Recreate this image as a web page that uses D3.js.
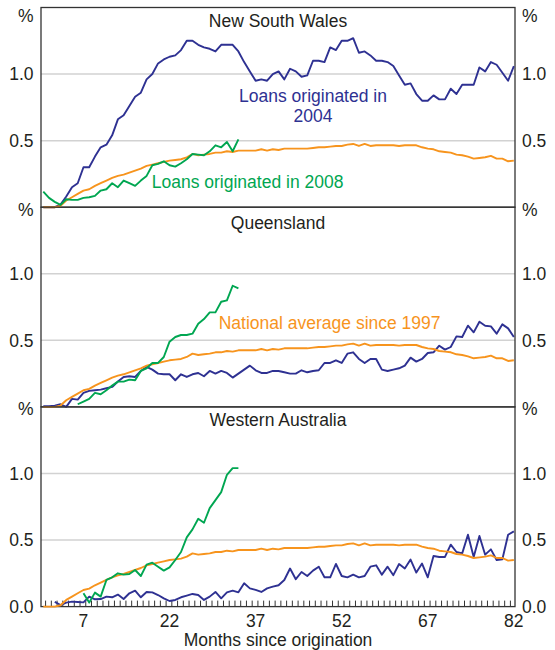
<!DOCTYPE html>
<html>
<head>
<meta charset="utf-8">
<script src="https://cdn.jsdelivr.net/npm/d3@7"></script>
<style>
  body { margin: 0; background: #fff; }
  svg text { font-family: "Liberation Sans", Arial, sans-serif; font-size: 17.5px; fill: #231f20; }
</style>
</head>
<body>
<svg id="chart" width="555" height="650"></svg>
<script>
// Arrears rate (%) by months since origination, k = 0..82

const national = [0, 0, 0, 0.01, 0.05, 0.075, 0.10, 0.125, 0.135, 0.16,
  0.18, 0.20, 0.22, 0.235, 0.245, 0.26, 0.275, 0.29, 0.31, 0.32,
  0.33, 0.34, 0.35, 0.355, 0.36, 0.375, 0.40, 0.39, 0.395, 0.40,
  0.41, 0.41, 0.42, 0.415, 0.425, 0.425, 0.425, 0.425, 0.435, 0.425,
  0.435, 0.43, 0.44, 0.44, 0.44, 0.44, 0.44, 0.445, 0.45, 0.45,
  0.455, 0.46, 0.46, 0.47, 0.475, 0.46, 0.475, 0.46, 0.465, 0.465,
  0.465, 0.465, 0.46, 0.465, 0.465, 0.465, 0.45, 0.44, 0.435, 0.42,
  0.415, 0.41, 0.395, 0.39, 0.38, 0.365, 0.37, 0.375, 0.385, 0.365,
  0.365, 0.345, 0.35];

const nsw2004 = [0, 0, 0, 0.02, 0.08, 0.15, 0.18, 0.30, 0.30, 0.38,
  0.45, 0.47, 0.54, 0.66, 0.69, 0.76, 0.83, 0.86, 0.96, 1.00,
  1.08, 1.11, 1.13, 1.14, 1.18, 1.25, 1.25, 1.22, 1.20, 1.19,
  1.17, 1.22, 1.22, 1.22, 1.17, 1.09, 1.02, 0.95, 0.96, 0.95,
  1.00, 1.02, 0.96, 1.04, 1.02, 0.98, 0.99, 1.10, 1.10, 1.09,
  1.20, 1.18, 1.25, 1.25, 1.27, 1.16, 1.17, 1.14, 1.10, 1.10,
  1.09, 1.06, 0.99, 0.92, 0.93, 0.85, 0.80, 0.80, 0.84, 0.81,
  0.81, 0.89, 0.85, 0.92, 0.92, 0.92, 1.05, 1.02, 1.09, 1.07,
  1.01, 0.95, 1.06];
const nsw2008Start = 0;
const nsw2008 = [0.117, 0.07, 0.04, 0.017, 0.06, 0.055, 0.055, 0.07, 0.075, 0.085,
  0.125, 0.135, 0.18, 0.15, 0.20, 0.18, 0.16, 0.20, 0.235, 0.315,
  0.325, 0.345, 0.315, 0.305, 0.33, 0.36, 0.40, 0.395, 0.39, 0.42,
  0.465, 0.45, 0.49, 0.42, 0.51];

const qld2004 = [0.005, 0.005, 0.01, 0.02, 0.0, 0.06, 0.055, 0.105, 0.12, 0.125,
  0.13, 0.14, 0.15, 0.19, 0.225, 0.23, 0.225, 0.27, 0.30, 0.28,
  0.25, 0.245, 0.245, 0.20, 0.245, 0.225, 0.245, 0.255, 0.23, 0.27,
  0.25, 0.27, 0.255, 0.22, 0.25, 0.28, 0.31, 0.275, 0.255, 0.255,
  0.27, 0.27, 0.26, 0.25, 0.25, 0.275, 0.26, 0.27, 0.275, 0.33,
  0.33, 0.35, 0.33, 0.40, 0.41, 0.36, 0.33, 0.36, 0.36, 0.28,
  0.27, 0.28, 0.29, 0.31, 0.37, 0.34, 0.36, 0.405, 0.41, 0.46,
  0.43, 0.45, 0.53, 0.525, 0.61, 0.56, 0.64, 0.61, 0.605, 0.55,
  0.62, 0.59, 0.525];
const qld2008Start = 6;
const qld2008 = [0.02, 0.04, 0.06, 0.105, 0.095, 0.125, 0.16, 0.19, 0.19, 0.205,
  0.20, 0.27, 0.29, 0.33, 0.33, 0.375, 0.49, 0.525, 0.54, 0.54,
  0.55, 0.625, 0.66, 0.71, 0.71, 0.79, 0.80, 0.91, 0.89];

const wa2004Start = 2;
const wa2004 = [0.035, 0.012, 0.03, 0.037, 0.035, 0.032, 0.075, 0.055,
  0.057, 0.075, 0.07, 0.09, 0.057, 0.10, 0.12, 0.07, 0.11, 0.107,
  0.087, 0.062, 0.042, 0.05, 0.07, 0.082, 0.095, 0.087, 0.05, 0.075,
  0.11, 0.062, 0.107, 0.12, 0.107, 0.175, 0.137, 0.125, 0.11, 0.137,
  0.15, 0.16, 0.20, 0.286, 0.206, 0.26, 0.23, 0.27, 0.30, 0.22,
  0.22, 0.32, 0.23, 0.22, 0.24, 0.22, 0.23, 0.30, 0.31, 0.24,
  0.30, 0.236, 0.32, 0.286, 0.353, 0.256, 0.323, 0.22, 0.38, 0.373,
  0.373, 0.465, 0.41, 0.40, 0.54, 0.373, 0.53, 0.39, 0.43, 0.35,
  0.356, 0.54, 0.565];
const wa2008Start = 7;
const wa2008 = [0.10, 0.03, 0.105, 0.075, 0.20, 0.22, 0.25, 0.24, 0.245, 0.275,
  0.23, 0.315, 0.33, 0.30, 0.27, 0.295, 0.35, 0.41, 0.52, 0.58,
  0.66, 0.63, 0.74, 0.80, 0.86, 0.99, 1.04, 1.04];

const regions = ["New South Wales", "Queensland", "Western Australia"];
const xTickLabels = [7, 22, 37, 52, 67, 82];
const yTickLabels = [0.5, 1.0];

const navy = "#2e3192", orange = "#f7941d", green = "#00a651";

// layout
const svg = d3.select("#chart");
const plotLeft = 41, plotRight = 515, plotTop = 7.5, panelH = 199.7;

const x = d3.scaleLinear().domain([-0.4, 82.2]).range([plotLeft, plotRight]);

const toPoints = (vals, start) => vals.map((v, i) => [start + i, v]);

const panels = [
  { name: regions[0], s2004: toPoints(nsw2004, 0), s2008: toPoints(nsw2008, nsw2008Start),
    titleDy: 19, pctDy: 8 },
  { name: regions[1], s2004: toPoints(qld2004, 0), s2008: toPoints(qld2008, qld2008Start),
    titleDy: 22, pctDy: 2.3 },
  { name: regions[2], s2004: toPoints(wa2004, wa2004Start), s2008: toPoints(wa2008, wa2008Start),
    titleDy: 19, pctDy: 1.7 }
];

// x ticks (bottom panel only), drawn under the lines
const xBase = plotTop + 3 * panelH;
svg.append("g")
  .selectAll("line")
  .data(d3.range(0, 82))
  .enter().append("line")
  .attr("x1", d => x(d + 0.4)).attr("x2", d => x(d + 0.4))
  .attr("y1", xBase).attr("y2", xBase - 6)
  .attr("stroke", "#333").attr("stroke-width", 1);

panels.forEach(function (p, i) {
  const y0 = plotTop + i * panelH;
  const y = d3.scaleLinear().domain([0, 1.5]).range([y0 + panelH, y0]);
  const g = svg.append("g");

  // gridlines
  g.selectAll("line.grid")
    .data(yTickLabels)
    .enter().append("line")
    .attr("x1", plotLeft).attr("x2", plotRight)
    .attr("y1", d => y(d)).attr("y2", d => y(d))
    .attr("stroke", "#d2d2d2").attr("stroke-width", 1.5);

  // panel border
  g.append("rect")
    .attr("x", plotLeft).attr("y", y0)
    .attr("width", plotRight - plotLeft).attr("height", panelH)
    .attr("fill", "none").attr("stroke", "#333").attr("stroke-width", 1.3);

  // y labels both sides
  [{ x: plotLeft - 7.5, anchor: "end" }, { x: plotRight + 7, anchor: "start" }].forEach(function (side) {
    g.selectAll(null)
      .data(yTickLabels)
      .enter().append("text")
      .attr("x", side.x).attr("y", d => y(d))
      .attr("dy", "0.36em")
      .attr("text-anchor", side.anchor)
      .text(d => d.toFixed(1));
    g.append("text")
      .attr("x", side.x).attr("y", y0 + p.pctDy)
      .attr("dy", "0.36em")
      .attr("text-anchor", side.anchor)
      .text("%");
    if (i === panels.length - 1) {
      g.append("text")
        .attr("x", side.x).attr("y", y(0))
        .attr("dy", "0.36em")
        .attr("text-anchor", side.anchor)
        .text("0.0");
    }
  });

  // title
  g.append("text")
    .attr("x", (plotLeft + plotRight) / 2).attr("y", y0 + p.titleDy)
    .attr("text-anchor", "middle")
    .text(p.name);

  const line = d3.line().x(d => x(d[0])).y(d => y(d[1]));

  g.append("path").datum(p.s2004)
    .attr("d", line).attr("fill", "none")
    .attr("stroke", navy).attr("stroke-width", 1.9).attr("stroke-linejoin", "round");
  g.append("path").datum(toPoints(national, 0))
    .attr("d", line).attr("fill", "none")
    .attr("stroke", orange).attr("stroke-width", 1.9).attr("stroke-linejoin", "round");
  g.append("path").datum(p.s2008)
    .attr("d", line).attr("fill", "none")
    .attr("stroke", green).attr("stroke-width", 1.9).attr("stroke-linejoin", "round");

  // annotations
  if (i === 0) {
    const t = g.append("text").style("fill", navy)
      .attr("text-anchor", "middle");
    t.append("tspan").attr("x", x(47)).attr("y", y(0.79)).text("Loans originated in");
    t.append("tspan").attr("x", x(47)).attr("y", y(0.79) + 20).text("2004");
    g.append("text").style("fill", green)
      .attr("text-anchor", "middle")
      .attr("x", x(35.6)).attr("y", y(0.144))
      .text("Loans originated in 2008");
  }
  if (i === 1) {
    g.append("text").style("fill", orange)
      .attr("text-anchor", "middle")
      .attr("x", x(49.9)).attr("y", y(0.585))
      .text("National average since 1997");
  }
});

svg.append("g")
  .selectAll("text")
  .data(xTickLabels)
  .enter().append("text")
  .attr("x", d => x(d)).attr("y", xBase + 20)
  .attr("text-anchor", "middle")
  .text(d => d);

svg.append("text")
  .attr("x", (plotLeft + plotRight) / 2).attr("y", 646)
  .attr("text-anchor", "middle")
  .text("Months since origination");
</script>
</body>
</html>
